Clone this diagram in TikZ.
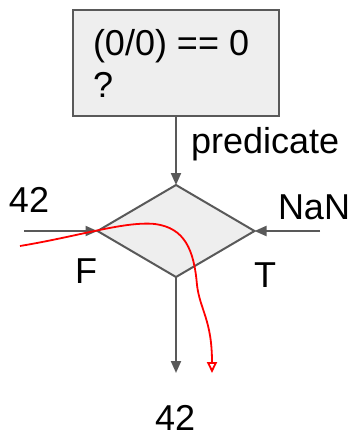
\documentclass[tikz,border=0pt]{standalone}
\usepackage{fontspec}
\setmainfont{Liberation Sans}
\usetikzlibrary{arrows.meta,shapes.geometric}
\definecolor{lgray}{HTML}{595959}
\definecolor{lfill}{HTML}{EEEEEE}
\definecolor{lred}{HTML}{FF0000}
\begin{document}
\begin{tikzpicture}[x=1pt,y=-1pt,
  lbl/.style={inner sep=0pt,outer sep=0pt,anchor=base west,font=\fontsize{36}{42}\selectfont},
  conn/.style={draw=lgray,line width=2pt,-{Triangle[length=12pt,width=10pt]}},
  shp/.style={draw=lgray,fill=lfill,line width=2pt,outer sep=0pt,inner sep=0pt}]
\useasboundingbox (0,0) rectangle (354,437);
\node[shp,minimum width=206pt,minimum height=106pt,anchor=north west] (box) at (73,10) {};
\node[lbl] (t1) at (93,55) {(0/0) == 0};
\node[lbl] (t2) at (93,97) {?};
\node[shp,diamond,minimum width=157pt,minimum height=92pt,shape aspect=1.7] (dia) at (176,231) {};
\node[lbl] (pred) at (191,153) {predicate};
\node[lbl] (l42) at (9,212) {42};
\node[lbl] (nan) at (278,219) {NaN};
\node[lbl] (f) at (75,283) {F};
\node[lbl] (t) at (254,287) {T};
\node[lbl] (b42) at (155,430) {42};
\coordinate (lin) at (24,231);
\coordinate (rin) at (320,231);
\coordinate (bout) at (176,373);
\coordinate (rs) at (20,246);
\coordinate (re) at (212,373);
\draw[conn] (box.south) -- (dia.north);
\draw[conn] (lin) -- (dia.west);
\draw[conn] (rin) -- (dia.east);
\draw[conn] (dia.south) -- (bout);
\draw[lred,line width=1.8pt,-{Triangle[open,length=11pt,width=10pt,fill=white]}]
  (rs) .. controls (80,236) and (125,221) .. (155,224)
  .. controls (185,228) and (194,250) .. (197,285)
  .. controls (200,310) and (212,320) .. (re);
\end{tikzpicture}
\end{document}
